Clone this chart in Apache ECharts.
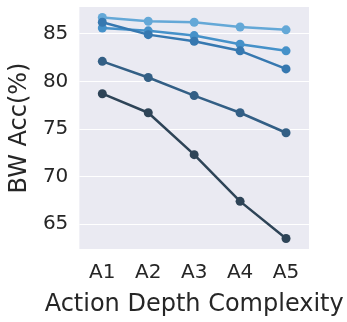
<!DOCTYPE html>
<html>
<head>
<meta charset="utf-8">
<script src="https://cdn.jsdelivr.net/npm/echarts@6/dist/echarts.min.js"></script>
<style>
	html, body { margin: 0; padding: 0; background: #fff; }
	#chart { width: 347px; height: 322px; }
</style>
</head>
<body>
<div id="chart"></div>
<script>
// values
const categories = ['A1', 'A2', 'A3', 'A4', 'A5'];
const yTicks = [65, 70, 75, 80, 85];
const series1 = [86.7, 86.3, 86.2, 85.7, 85.4];
const series2 = [85.6, 85.3, 84.8, 83.9, 83.2];
const series3 = [86.2, 84.9, 84.2, 83.2, 81.3];
const series4 = [82.1, 80.4, 78.5, 76.7, 74.6];
const series5 = [78.7, 76.7, 72.3, 67.4, 63.5];
const lineColors = ['#64a8d7', '#4591c9', '#3678b0', '#335f85', '#2e4457'];

let myChart = echarts.init(document.getElementById('chart'));
let allData = [series1, series2, series3, series4, series5];

let seriesList = [];
for (let i = 0; i < allData.length; i++) {
	seriesList.push({
		type: 'line',
		data: allData[i],
		symbol: 'circle',
		symbolSize: 9,
		showSymbol: true,
		color: lineColors[i],
		lineStyle: { width: 2.5, color: lineColors[i] },
		itemStyle: { color: lineColors[i] },
		animation: false
	});
}

let option = {
	backgroundColor: '#ffffff',
	textStyle: { fontFamily: 'DejaVu Sans' },
	grid: {
		left: 73,
		right: 38,
		top: 7,
		bottom: 64,
		show: true,
		backgroundColor: '#eaeaf2',
		borderWidth: 0
	},
	xAxis: {
		type: 'category',
		data: categories,
		boundaryGap: true,
		name: 'Action Depth Complexity',
		nameLocation: 'middle',
		nameGap: 44,
		nameTextStyle: { fontSize: 24, color: '#262626', fontFamily: 'DejaVu Sans' },
		axisLine: { show: false },
		axisTick: { show: false },
		splitLine: { show: false },
		axisLabel: { fontSize: 20, color: '#262626', margin: 14, fontFamily: 'DejaVu Sans' }
	},
	yAxis: {
		type: 'value',
		min: 62.4,
		max: 87.8,
		name: 'BW Acc(%)',
		nameLocation: 'middle',
		nameGap: 40,
		nameTextStyle: { fontSize: 24, color: '#262626', fontFamily: 'DejaVu Sans' },
		axisLine: { show: false },
		axisTick: { show: false, customValues: yTicks },
		splitLine: { show: true, lineStyle: { color: '#ffffff', width: 1.2 } },
		axisLabel: { fontSize: 20, color: '#262626', margin: 11, customValues: yTicks, fontFamily: 'DejaVu Sans' }
	},
	series: seriesList
};

option && myChart.setOption(option);
</script>
</body>
</html>
